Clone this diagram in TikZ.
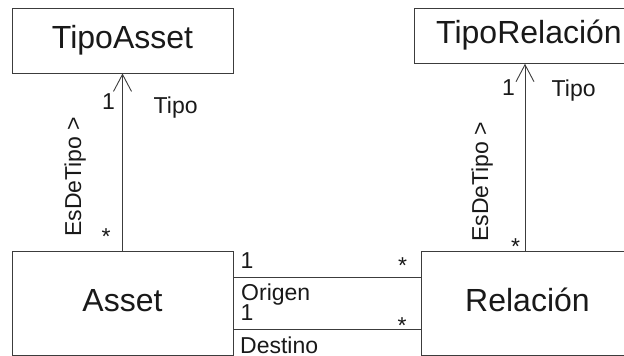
\documentclass[tikz,border=0pt]{standalone}
\usepackage{fontspec}
\setmainfont{Liberation Sans}
\usetikzlibrary{arrows.meta}
\definecolor{ln}{RGB}{60,60,60}
\definecolor{tx}{RGB}{25,25,25}
\tikzset{
  box/.style={draw=ln, line width=0.9pt, inner sep=0pt, text=tx,
    font=\fontsize{32}{38}\selectfont, text height=22.9pt, text depth=6.7pt},
  lbl/.style={inner sep=0pt, text=tx, font=\fontsize{23}{27}\selectfont, anchor=base west},
  rlbl/.style={lbl, rotate=90},
  assoc/.style={draw=ln, line width=0.9pt},
  nav/.style={assoc, -{Straight Barb[length=17pt,width=18pt]}},
}
\begin{document}
\begin{tikzpicture}[x=1pt,y=-1pt]
\useasboundingbox (0,0) rectangle (624,356);
% classes
\node[box, minimum width=221pt, minimum height=65pt] (ta) at (122.5,40.5) {TipoAsset};
\node[box, minimum width=229pt, minimum height=55pt] (tr) at (529,35.8) {TipoRelación};
\node[box, minimum width=221pt, minimum height=104.5pt] (as) at (122.5,303.25) {Asset};
\node[box, minimum width=213pt, minimum height=104.5pt] (re) at (527.5,303.25) {Relación};
% associations
\draw[nav] (as.north) -- (ta.south);
\coordinate (rb) at ([xshift=-2.5pt]re.north);
\draw[nav] (rb) -- (rb |- tr.south);
\coordinate (o1) at ([yshift=-26.7pt]as.north east);
\draw[assoc] (o1) -- (o1 -| re.west);
\coordinate (d1) at ([yshift=-79pt]as.north east);
\draw[assoc] (d1) -- (d1 -| re.west);
% left association labels
\node[lbl] (l1) at (102,109) {1};
\node[lbl] (lt) at (153.5,113) {Tipo};
\node[rlbl] (le) at (81,237) {EsDeTipo >};
\node[lbl] (ls) at (101.5,244) {*};
% right association labels
\node[lbl] (r1) at (502,95) {1};
\node[lbl] (rt) at (551.5,96) {Tipo};
\node[rlbl] (re2) at (488,242) {EsDeTipo >};
\node[lbl] (rs) at (511,254) {*};
% origen / destino labels
\node[lbl] (o1l) at (240.5,268) {1};
\node[lbl] (os) at (398,273.7) {*};
\node[lbl] (ol) at (241,300) {Origen};
\node[lbl] (d1l) at (240.5,320) {1};
\node[lbl] (ds) at (397.5,333) {*};
\node[lbl] (dl) at (240,353) {Destino};
\end{tikzpicture}
\end{document}
